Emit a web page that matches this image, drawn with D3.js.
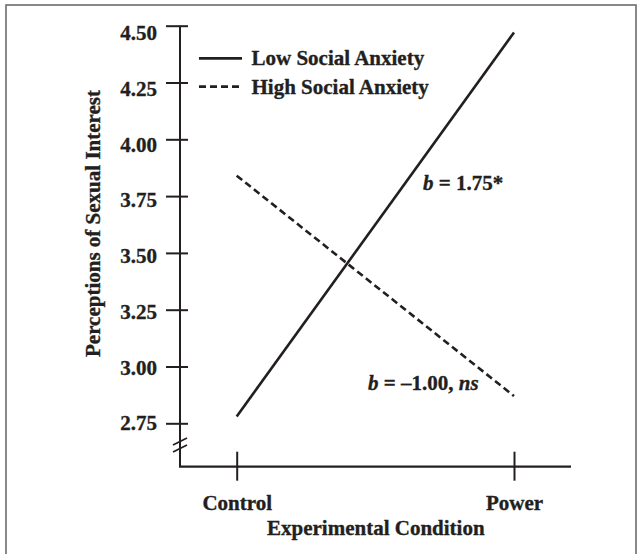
<!DOCTYPE html>
<html>
<head>
<meta charset="utf-8">
<title>Perceptions of Sexual Interest</title>
<script src="https://cdn.jsdelivr.net/npm/d3@7"></script>
<style>
    body { margin: 0; background: #fff; }
    text { font-family: "Liberation Serif", "Times New Roman", serif; font-weight: bold; fill: #231f20;
           stroke: #231f20; stroke-width: 0.35px; }
</style>
</head>
<body>
<div id="chart"></div>
<script>
    // data
    const conditions = ["Control", "Power"];
    const lowAnxiety = [2.78, 4.47];
    const highAnxiety = [3.84, 2.87];
    const yTicks = [2.75, 3.00, 3.25, 3.50, 3.75, 4.00, 4.25, 4.50];
    const seriesNames = ["Low Social Anxiety", "High Social Anxiety"];

    const width = 642, height = 554;
    const ink = "#231f20";

    const svg = d3.select("#chart").append("svg")
        .attr("width", width)
        .attr("height", height);

    // frame
    svg.append("rect")
        .attr("x", 6).attr("y", 5)
        .attr("width", 630).attr("height", 560)
        .attr("fill", "none")
        .attr("stroke", "#6b6b6b")
        .attr("stroke-width", 1.6);

    const axisX = 180, axisBottom = 466.7;

    const x = d3.scalePoint().domain(conditions).range([236.7, 514]);
    const y = d3.scaleLinear().domain([2.75, 4.50]).range([423.3, 25.7]);
    // tick labels in the original sit on a slightly tighter spacing than the tick marks
    const yLabel = d3.scaleLinear().domain([2.75, 4.50]).range([423, 33]);

    // y axis line + ticks
    svg.append("line")
        .attr("x1", axisX).attr("x2", axisX)
        .attr("y1", y(4.50)).attr("y2", axisBottom)
        .attr("stroke", ink).attr("stroke-width", 2);

    const yAxis = d3.axisLeft(y).tickValues(yTicks).tickFormat(d3.format(".2f"))
        .tickSize(0).tickPadding(23);
    const yg = svg.append("g").attr("transform", `translate(${axisX},0)`).call(yAxis);
    yg.select(".domain").remove();
    yg.selectAll(".tick text").attr("font-size", 21).attr("fill", ink)
        .attr("font-family", "Liberation Serif").attr("font-weight", "bold")
        .attr("y", d => yLabel(d) - y(d));
    yg.selectAll(".tick").append("line")
        .attr("x1", -14).attr("x2", 8)
        .attr("stroke", ink).attr("stroke-width", 2);

    // axis break
    [441.5, 448.5].forEach(by => {
        svg.append("line")
            .attr("x1", axisX - 7).attr("y1", by + 3.5)
            .attr("x2", axisX + 7).attr("y2", by - 3.5)
            .attr("stroke", ink).attr("stroke-width", 1.8);
    });

    // x axis
    svg.append("line")
        .attr("x1", axisX - 1).attr("x2", 571)
        .attr("y1", axisBottom).attr("y2", axisBottom)
        .attr("stroke", ink).attr("stroke-width", 2.2);

    const xAxis = d3.axisBottom(x).tickSize(0).tickPadding(28);
    const xg = svg.append("g").attr("transform", `translate(0,${axisBottom})`).call(xAxis);
    xg.select(".domain").remove();
    xg.selectAll(".tick text").attr("font-size", 21).attr("fill", ink)
        .attr("font-family", "Liberation Serif").attr("font-weight", "bold");
    xg.selectAll(".tick").append("line")
        .attr("y1", -15).attr("y2", 14)
        .attr("stroke", ink).attr("stroke-width", 2);

    // axis titles
    svg.append("text")
        .attr("x", 375.8).attr("y", 535)
        .attr("text-anchor", "middle")
        .attr("font-size", 21)
        .text("Experimental Condition");

    svg.append("text")
        .attr("transform", "translate(99.5,223.5) rotate(-90)")
        .attr("text-anchor", "middle")
        .attr("font-size", 21)
        .text("Perceptions of Sexual Interest");

    // lines
    const line = d3.line().x((d, i) => x(conditions[i])).y(d => y(d));

    svg.append("path")
        .datum(lowAnxiety)
        .attr("d", line)
        .attr("fill", "none")
        .attr("stroke", ink)
        .attr("stroke-width", 2.6);

    svg.append("path")
        .datum(highAnxiety)
        .attr("d", line)
        .attr("fill", "none")
        .attr("stroke", ink)
        .attr("stroke-width", 2.6)
        .attr("stroke-dasharray", "7,4");

    // legend
    const legend = svg.append("g");
    seriesNames.forEach((name, i) => {
        const ly = 58.3 + i * 28.4;
        legend.append("line")
            .attr("x1", 199).attr("x2", 242)
            .attr("y1", ly).attr("y2", ly)
            .attr("stroke", ink)
            .attr("stroke-width", 2.8)
            .attr("stroke-dasharray", i === 1 ? "7,4" : null);
        legend.append("text")
            .attr("x", 251.5).attr("y", ly + 6.8)
            .attr("font-size", 21)
            .text(name);
    });

    // slope annotations
    const a1 = svg.append("text").attr("x", 423).attr("y", 190).attr("font-size", 21);
    a1.append("tspan").attr("font-style", "italic").text("b");
    a1.append("tspan").text(" = 1.75*");

    const a2 = svg.append("text").attr("x", 368).attr("y", 390).attr("font-size", 21);
    a2.append("tspan").attr("font-style", "italic").text("b");
    a2.append("tspan").text(" = \u20131.00, ");
    a2.append("tspan").attr("font-style", "italic").text("ns");
</script>
</body>
</html>
